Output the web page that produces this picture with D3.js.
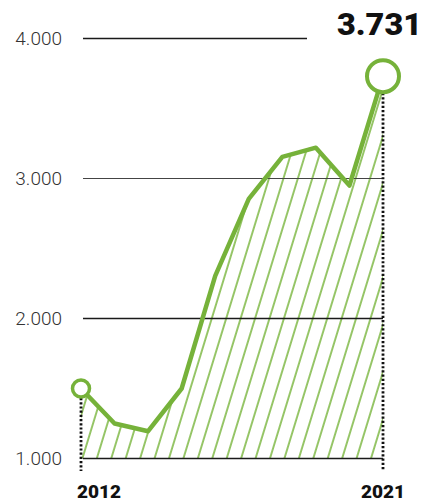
<!DOCTYPE html>
<html>
<head>
<meta charset="utf-8">
<script src="https://cdn.jsdelivr.net/npm/d3@7"></script>
<style>
  html, body { margin: 0; padding: 0; background: #fff; }
  svg { display: block; }
</style>
</head>
<body>
<svg id="chart" width="426" height="502"></svg>
<script>
// Yearly values
const years = [2012, 2013, 2014, 2015, 2016, 2017, 2018, 2019, 2020, 2021];
const values = [1500, 1250, 1195, 1500, 2305, 2855, 3155, 3220, 2950, 3731];
const yTicks = [1000, 2000, 3000, 4000];
const yTickLabels = ["1.000", "2.000", "3.000", "4.000"];
const yearLabels = ["2012", "2021"];
const lastLabel = "3.731";

const green = "#76b23a";
const hatchGreen = "#7db843";

const svg = d3.select("#chart");
const x = d3.scaleLinear().domain([2012, 2021]).range([81, 383]);
const y = d3.scaleLinear().domain([1000, 4000]).range([458.5, 38.5]);

const data = years.map((yr, i) => ({ year: yr, value: values[i] }));

// diagonal hatch pattern
const defs = svg.append("defs");
const pat = defs.append("pattern")
  .attr("id", "hatch")
  .attr("patternUnits", "userSpaceOnUse")
  .attr("width", 13.8)
  .attr("height", 20)
  .attr("patternTransform", "translate(4,0) rotate(17)");
pat.append("line")
  .attr("x1", 2).attr("x2", 2)
  .attr("y1", -2).attr("y2", 22)
  .attr("stroke", hatchGreen)
  .attr("stroke-width", 1.6);

const area = d3.area()
  .x(d => x(d.year))
  .y0(y(1000))
  .y1(d => y(d.value));

svg.append("path")
  .datum(data)
  .attr("d", area)
  .attr("fill", "url(#hatch)");

// horizontal gridlines; the top one stops short of the value label
const gridEnd = v => v === 4000 ? 307 : x(2021);
svg.append("g")
  .selectAll("line")
  .data(yTicks)
  .join("line")
  .attr("x1", 83)
  .attr("x2", d => gridEnd(d))
  .attr("y1", d => y(d))
  .attr("y2", d => y(d))
  .attr("stroke", d => d === 3000 ? "#444" : "#1a1a1a")
  .attr("stroke-width", d => d === 3000 ? 1 : 1.5);

svg.append("g")
  .selectAll("text")
  .data(yTicks)
  .join("text")
  .attr("x", 62)
  .attr("y", d => y(d))
  .attr("dy", "0.36em")
  .attr("text-anchor", "end")
  .attr("font-family", "Roboto, sans-serif")
  .attr("font-weight", 300)
  .attr("font-size", 19)
  .attr("fill", "#333")
  .text((d, i) => yTickLabels[i]);

// dotted drop lines at the first and last year
const first = data[0], last = data[data.length - 1];
const rFirst = 8.5, rLast = 16;
const drops = [
  { d: first, top: y(first.value) + rFirst + 1 },
  { d: last, top: y(last.value) + rLast + 1 }
];
svg.append("g")
  .selectAll("line")
  .data(drops)
  .join("line")
  .attr("x1", o => x(o.d.year))
  .attr("x2", o => x(o.d.year))
  .attr("y1", o => o.top)
  .attr("y2", 471)
  .attr("stroke", "#111")
  .attr("stroke-width", 2.8)
  .attr("stroke-dasharray", "2.2,2");

// main line
svg.append("path")
  .datum(data)
  .attr("d", d3.line().x(d => x(d.year)).y(d => y(d.value)))
  .attr("fill", "none")
  .attr("stroke", green)
  .attr("stroke-width", 4.5)
  .attr("stroke-linejoin", "round")
  .attr("stroke-linecap", "round");

// end markers
svg.append("circle")
  .attr("cx", x(first.year)).attr("cy", y(first.value)).attr("r", rFirst)
  .attr("fill", "#fff").attr("stroke", green).attr("stroke-width", 3.5);
svg.append("circle")
  .attr("cx", x(last.year)).attr("cy", y(last.value)).attr("r", rLast)
  .attr("fill", "#fff").attr("stroke", green).attr("stroke-width", 4);

// year labels
svg.append("text")
  .attr("x", x(first.year) - 4).attr("y", 498)
  .attr("text-anchor", "start")
  .attr("font-family", "Roboto, sans-serif")
  .attr("font-weight", 900)
  .attr("font-size", 19)
  .attr("fill", "#111")
  .text(yearLabels[0]);
svg.append("text")
  .attr("x", x(last.year)).attr("y", 498)
  .attr("text-anchor", "middle")
  .attr("font-family", "Roboto, sans-serif")
  .attr("font-weight", 900)
  .attr("font-size", 19)
  .attr("fill", "#111")
  .text(yearLabels[1]);

// value label for the latest year
svg.append("text")
  .attr("x", 422).attr("y", 35)
  .attr("text-anchor", "end")
  .attr("font-family", "Roboto, sans-serif")
  .attr("font-weight", 900)
  .attr("font-size", 32)
  .attr("textLength", 85)
  .attr("lengthAdjust", "spacingAndGlyphs")
  .attr("fill", "#111")
  .text(lastLabel);
</script>
</body>
</html>
